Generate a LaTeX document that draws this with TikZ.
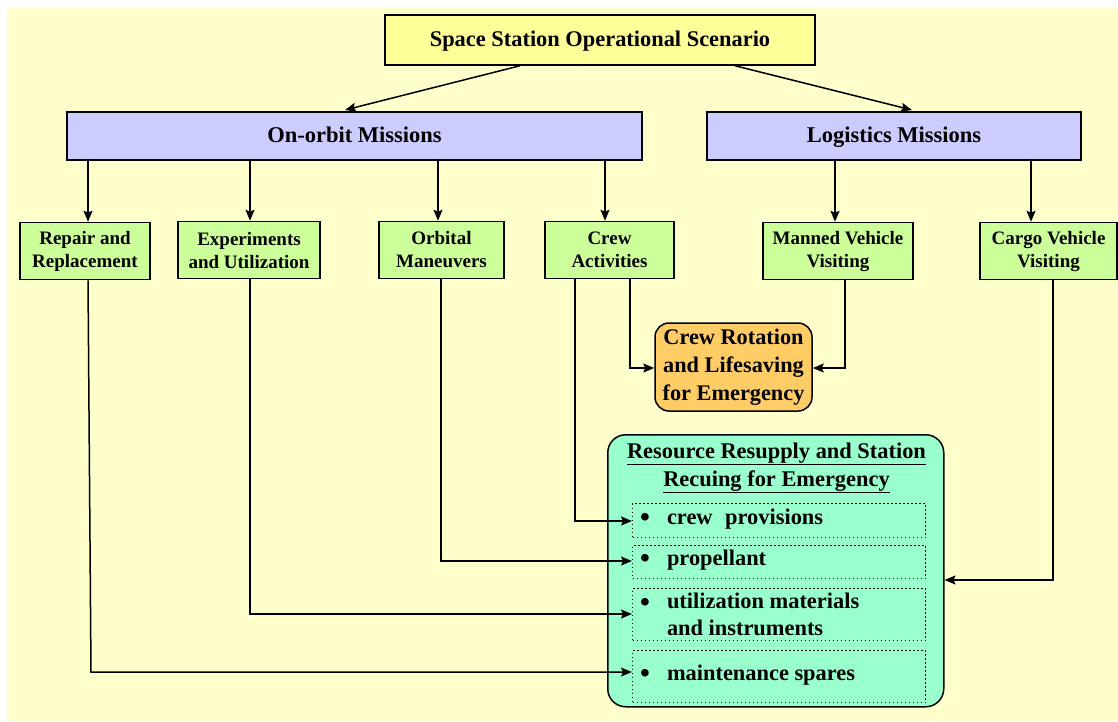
\documentclass[tikz,border=0pt]{standalone}
\usepackage{fontspec}
\setmainfont{Liberation Serif}
\usetikzlibrary{arrows.meta}
\definecolor{bgyellow}{HTML}{FFFFCC}
\definecolor{topyellow}{HTML}{FFFF99}
\definecolor{missionblue}{HTML}{CCCCFF}
\definecolor{taskgreen}{HTML}{CCFF99}
\definecolor{rescueorange}{HTML}{FFCC66}
\definecolor{supplyteal}{HTML}{99FFCC}
\newcommand{\bigbullet}{\raisebox{-2.5pt}{\fontsize{28}{27}\selectfont\textbullet}}

\begin{document}
\begin{tikzpicture}[
    x=1pt, y=-1pt,
    box/.style={draw, line width=1.5pt, align=center, inner sep=0pt, font=\bfseries},
    mission/.style={box, fill=missionblue, minimum height=48pt, text height=15pt, text depth=3pt, font=\bfseries\fontsize{22.5}{26}\selectfont},
    task/.style={box, fill=taskgreen, minimum height=57pt, font=\bfseries\fontsize{19}{23}\selectfont},
    item/.style={draw, line width=1.3pt, dash pattern=on 1.3pt off 2.7pt, minimum width=293pt, anchor=north west, inner sep=0pt},
    itemtext/.style={anchor=west, align=left, inner sep=0pt, font=\bfseries\fontsize{22.4}{27}\selectfont},
    link/.style={-{Stealth[length=11pt,width=9pt,inset=2pt]}, line width=1.5pt}
]
    \useasboundingbox (0,0) rectangle (1118,721);
    \fill[bgyellow] (7,7) rectangle (1118,721);

    \node[box, fill=topyellow, minimum width=430pt, minimum height=50pt, text height=15pt, text depth=3pt, font=\bfseries\fontsize{22.4}{26}\selectfont] (scenario) at (600,40) {Space Station Operational Scenario};

    \node[mission, minimum width=575pt] (onorbit) at (354.5,136) {On-orbit Missions};
    \node[mission, minimum width=374pt] (logistics) at (894,136) {Logistics Missions};

    \node[task, minimum width=130pt] (repair) at (85,251) {Repair and\\Replacement};
    \node[task, minimum width=142pt] (experiments) at (249,250) {Experiments\\and Utilization};
    \node[task, minimum width=125pt] (orbital) at (441.5,250) {Orbital\\Maneuvers};
    \node[task, minimum width=129pt] (crew) at (609.5,250) {Crew\\Activities};
    \node[task, minimum width=150pt] (manned) at (838,251) {Manned Vehicle\\Visiting};
    \node[task, minimum width=137pt] (cargo) at (1048.5,251) {Cargo Vehicle\\Visiting};

    \node[box, fill=rescueorange, rounded corners=14pt, minimum width=157pt, minimum height=88pt, font=\bfseries\fontsize{22.3}{28}\selectfont] (rotation) at (733.5,367) {Crew Rotation\\and Lifesaving\\for Emergency};

    \node[draw, fill=supplyteal, line width=1.5pt, rounded corners=18pt, minimum width=336pt, minimum height=272pt, anchor=north west, inner sep=0pt] (resupply) at (607,434) {};
    \node[align=center, inner sep=0pt, font=\bfseries\fontsize{22.4}{28}\selectfont] (resupplytitle) at (776.5,468) {\underline{Resource Resupply and Station}\\\underline{Recuing for Emergency}};

    \node[item, minimum height=34pt] (provisions) at (632,503) {};
    \node[item, minimum height=33pt] (propellant) at (632,545) {};
    \node[item, minimum height=52pt] (materials) at (632,588) {};
    \node[item, minimum height=52pt] (spares) at (632,650) {};

    \node[itemtext] (provisionstext) at (640,519) {\bigbullet\hspace{17pt}crew\hspace{7pt} provisions};
    \node[itemtext] (propellanttext) at (640,560) {\bigbullet\hspace{17pt}propellant};
    \node[itemtext] (materialstext) at (640,617) {\begin{tabular}{@{}l@{\hspace{17pt}}l@{}}\bigbullet & utilization materials\\ & and instruments\end{tabular}};
    \node[itemtext] (sparestext) at (640,675) {\bigbullet\hspace{17pt}maintenance spares};

    \draw[link] (scenario.south -| 520,0) -- (345,110);
    \draw[link] (scenario.south -| 735,0) -- (912,110);

    \draw[link] (onorbit.south -| 88,0) -- (repair.north -| 88,0);
    \draw[link] (onorbit.south -| 250,0) -- (experiments.north -| 250,0);
    \draw[link] (onorbit.south -| 438,0) -- (orbital.north -| 438,0);
    \draw[link] (onorbit.south -| 605,0) -- (crew.north -| 605,0);
    \draw[link] (logistics.south -| 835,0) -- (manned.north -| 835,0);
    \draw[link] (logistics.south -| 1031,0) -- (cargo.north -| 1031,0);

    \draw[link] (crew.south -| 630,0) |- (rotation.west |- 0,368);
    \draw[link] (manned.south -| 845,0) |- (rotation.east |- 0,368);

    \draw[link] (crew.south -| 575,0) |- (provisions.west |- 0,521);
    \draw[link] (orbital.south -| 441,0) |- (propellant.west |- 0,561);
    \draw[link] (experiments.south -| 250,0) |- (materials.west |- 0,614);
    \draw[link] (repair.south -| 88,0) -- (91,672) -- (spares.west |- 0,672);
    \draw[link] (cargo.south -| 1053,0) |- (resupply.east |- 0,580);
\end{tikzpicture}
\end{document}
